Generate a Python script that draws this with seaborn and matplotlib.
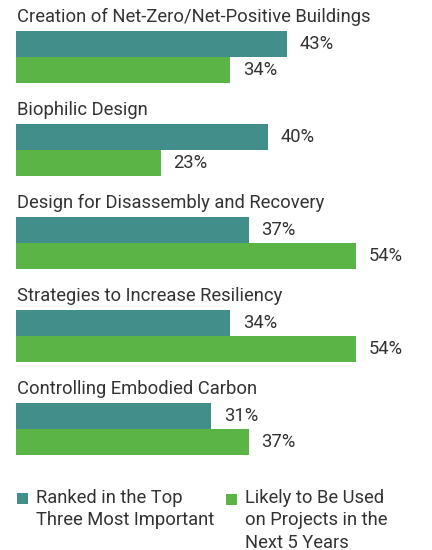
import matplotlib
matplotlib.use("Agg")
import matplotlib.pyplot as plt
import seaborn as sns
import pandas as pd
from matplotlib.patches import Rectangle, Patch
from matplotlib.legend_handler import HandlerPatch

categories = [
    "Creation of Net-Zero/Net-Positive Buildings",
    "Biophilic Design",
    "Design for Disassembly and Recovery",
    "Strategies to Increase Resiliency",
    "Controlling Embodied Carbon",
]
ranked_top3 = [43, 40, 37, 34, 31]
likely_used = [34, 23, 54, 54, 37]
series_names = ["Ranked in the Top\nThree Most Important",
                "Likely to Be Used\non Projects in the\nNext 5 Years"]
colors = ["#428E8B", "#5AB446"]
text_color = "#333333"

df = pd.DataFrame({
    "category": categories * 2,
    "value": ranked_top3 + likely_used,
    "series": [series_names[0]] * len(categories) + [series_names[1]] * len(categories),
})

sns.set_style("white")
plt.rcParams["font.family"] = ["Roboto", "DejaVu Sans"]

W, H, DPI = 432, 550, 100
FS = 13.2
LSP = 1.32
fig = plt.figure(figsize=(W / DPI, H / DPI), dpi=DPI)
ax = fig.add_axes([0, 0, 1, 1])

step = 93.0        # px per group
first_center = 57  # px from top
k = 6.3            # px per percent
left = 16          # px

sns.barplot(data=df, y="category", x="value", hue="series", order=categories,
            hue_order=series_names, palette=colors, width=0.56, dodge=True,
            saturation=1, ax=ax, legend=False, orient="h", linewidth=0,
            edgecolor="none")

ax.set_ylim((H - first_center) / step, -first_center / step)
ax.set_xlim(-left / k, (W - left) / k)
ax.axis("off")

for c in ax.containers:
    ax.bar_label(c, fmt="{:.0f}%", padding=9, fontsize=FS, color=text_color)

for i, cat in enumerate(categories):
    ax.text(0.1, i - 40 / step, cat, va="center", ha="left", fontsize=FS,
            color=text_color)


class TopSquare(HandlerPatch):
    def __init__(self, nlines, lsp_px, **kw):
        super().__init__(**kw)
        self.nlines = nlines
        self.lsp_pt = lsp_px * 72 / DPI

    def create_artists(self, legend, orig_handle, xdescent, ydescent, width,
                       height, fontsize, trans):
        s = 8.0
        shift = (self.nlines - 1) / 2 * self.lsp_pt
        y0 = -ydescent + (height - s) / 2 + shift
        p = Rectangle((-xdescent, y0), s, s, facecolor=orig_handle.get_facecolor(),
                      edgecolor="none", transform=trans)
        return [p]


handles = [Patch(facecolor=colors[0]), Patch(facecolor=colors[1])]
anchors_x = [17, 226]
nlines = [2, 3]
for h, name, x0, n in zip(handles, series_names, anchors_x, nlines):
    leg = fig.legend([h], [name], loc="upper left",
                     bbox_to_anchor=(x0 / W, 1 - 489 / H), frameon=False,
                     fontsize=FS, handlelength=0.6, handleheight=0.9,
                     handletextpad=0.45, borderpad=0, borderaxespad=0,
                     handler_map={h: TopSquare(n, 22)})
    for t in leg.get_texts():
        t.set_color(text_color)
        t.set_linespacing(LSP)

fig.savefig("out.png", dpi=DPI)
